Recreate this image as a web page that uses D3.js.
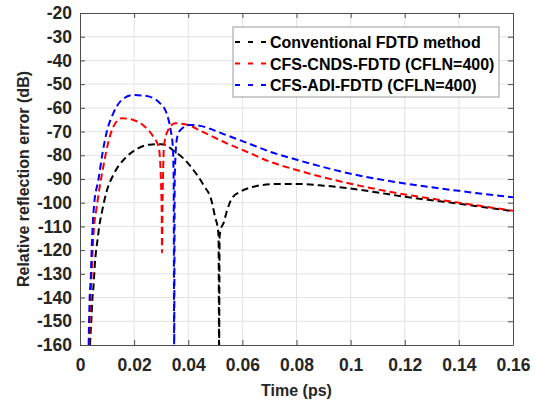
<!DOCTYPE html>
<html>
<head>
<meta charset="utf-8">
<script src="https://cdn.jsdelivr.net/npm/d3@7"></script>
<style>
  body { margin: 0; background: #fff; }
  svg { font-family: "Liberation Sans", Arial, sans-serif; font-weight: bold; }
  .grid line { stroke: #e3e3e3; stroke-width: 1; }
  .axis text { font-size: 17.5px; fill: #262626; }
  .axis line, .axis path { stroke: #4d4d4d; }
</style>
</head>
<body>
<div id="chart"></div>
<script>
// ---- data (time in ps, error in dB) ----
var xTicks = [0, 0.02, 0.04, 0.06, 0.08, 0.1, 0.12, 0.14, 0.16];
var yTicks = [-20, -30, -40, -50, -60, -70, -80, -90, -100, -110, -120, -130, -140, -150, -160];

var fdtdT  = [0.0037, 0.0040, 0.0043, 0.0045, 0.0049, 0.0052, 0.0055, 0.0059, 0.0065, 0.0071, 0.0080, 0.0089, 0.0099, 0.0123, 0.0166, 0.0216, 0.0265, 0.0302, 0.0351, 0.0382, 0.0419, 0.0456, 0.0487, 0.0499, 0.0508, 0.0512, 0.0514, 0.0516, 0.0521, 0.0530, 0.0542, 0.0561, 0.0592, 0.0641, 0.0721, 0.080, 0.09, 0.10, 0.11, 0.12, 0.13, 0.14, 0.15, 0.16];
var fdtdDb = [-160, -153, -147.4, -141.8, -136.5, -131.5, -125.6, -120.7, -115.5, -110, -104.5, -99.6, -95, -88.3, -81.3, -77, -75.4, -75.3, -78.5, -81.3, -86.2, -92.5, -99.6, -105.9, -110.1, -114, -162, -114, -111, -108.7, -103.8, -98.2, -95.4, -93.3, -92.1, -92.1, -92.8, -94, -95.7, -97.5, -99, -100.4, -102, -103.6];

var cndsT  = [0.0034, 0.0036, 0.0039, 0.0043, 0.0047, 0.0052, 0.0059, 0.0071, 0.0086, 0.0105, 0.0123, 0.0154, 0.0197, 0.0240, 0.0271, 0.0290, 0.0296, 0.0299, 0.0302, 0.0303, 0.0305, 0.0307, 0.0310, 0.0323, 0.0351, 0.0400, 0.0444, 0.0530, 0.0616, 0.0702, 0.080, 0.09, 0.10, 0.11, 0.12, 0.13, 0.14, 0.15, 0.16];
var cndsDb = [-160, -150, -140, -130, -120, -110, -104, -94.6, -84.8, -74.3, -68, -64.4, -65.1, -68, -72.2, -76.4, -82, -90.4, -104.4, -121, -100, -88, -76.4, -70, -66.5, -67.2, -69.6, -74.3, -78.5, -82.7, -86.2, -89.3, -92.0, -94.4, -96.5, -98.3, -100, -101.7, -103.4];

var adiT  = [0.0032, 0.0033, 0.0035, 0.0040, 0.0043, 0.0047, 0.0052, 0.0068, 0.0084, 0.0099, 0.0123, 0.0154, 0.0197, 0.0246, 0.0296, 0.0320, 0.0335, 0.0343, 0.0346, 0.0348, 0.0350, 0.0353, 0.0358, 0.0370, 0.0407, 0.0444, 0.0529, 0.0616, 0.0702, 0.0795, 0.09, 0.10, 0.11, 0.12, 0.13, 0.14, 0.15, 0.16];
var adiDb = [-160, -153, -142.5, -131.2, -120, -109.4, -101, -90.4, -78.5, -70, -62.3, -56.7, -54.6, -55, -58.1, -62.3, -69.4, -76.4, -90, -162, -90, -80, -73, -69.5, -67.2, -67.6, -71, -74.7, -78.5, -81.7, -85.0, -87.8, -90.0, -91.9, -93.5, -95.0, -96.4, -97.7];

var seriesNames = ["Conventional FDTD method", "CFS-CNDS-FDTD (CFLN=400)", "CFS-ADI-FDTD (CFLN=400)"];
var seriesColors = ["#000000", "#ff0000", "#0000ff"];

// ---- layout ----
var width = 541, height = 403;
var margin = {top: 13, right: 28, bottom: 58, left: 80};
var w = width - margin.left - margin.right;
var h = height - margin.top - margin.bottom;

var svg = d3.select("#chart").append("svg")
  .attr("width", width).attr("height", height);

var g = svg.append("g").attr("transform", "translate(" + margin.left + "," + margin.top + ")");

var xScale = d3.scaleLinear().domain([0, 0.16]).range([0, w]);
var yScale = d3.scaleLinear().domain([-160, -20]).range([h, 0]);

// grid
g.append("g").attr("class", "grid")
  .selectAll("line.v").data(xTicks.slice(1, -1)).enter().append("line")
  .attr("x1", d => xScale(d)).attr("x2", d => xScale(d))
  .attr("y1", 0).attr("y2", h);
g.append("g").attr("class", "grid")
  .selectAll("line.h").data(yTicks.slice(1, -1)).enter().append("line")
  .attr("y1", d => yScale(d)).attr("y2", d => yScale(d))
  .attr("x1", 0).attr("x2", w);

// curves
g.append("clipPath").attr("id", "clip")
  .append("rect").attr("width", w).attr("height", h);

var line = d3.line()
  .x(d => xScale(d[0]))
  .y(d => yScale(d[1]))
  .curve(d3.curveMonotoneX);

var allSeries = [d3.zip(fdtdT, fdtdDb), d3.zip(cndsT, cndsDb), d3.zip(adiT, adiDb)];

g.append("g").attr("clip-path", "url(#clip)")
  .selectAll("path").data(allSeries).enter().append("path")
  .attr("d", line)
  .attr("fill", "none")
  .attr("stroke", (d, i) => seriesColors[i])
  .attr("stroke-width", 2)
  .attr("stroke-dasharray", "7,4");

// axes (ticks inside, box on)
var fmt = d => d === 0 ? "0" : String(d);
g.append("g").attr("class", "axis")
  .attr("transform", "translate(0," + h + ")")
  .call(d3.axisBottom(xScale).tickValues(xTicks).tickFormat(fmt).tickSizeInner(-5).tickSizeOuter(0).tickPadding(14));
g.append("g").attr("class", "axis")
  .call(d3.axisTop(xScale).tickValues(xTicks).tickFormat("").tickSizeInner(-5).tickSizeOuter(0));
g.append("g").attr("class", "axis")
  .call(d3.axisLeft(yScale).tickValues(yTicks).tickFormat(fmt).tickSizeInner(-5).tickSizeOuter(0).tickPadding(8));
g.append("g").attr("class", "axis")
  .attr("transform", "translate(" + w + ",0)")
  .call(d3.axisRight(yScale).tickValues(yTicks).tickFormat("").tickSizeInner(-5).tickSizeOuter(0));

// axis labels
svg.append("text")
  .attr("x", margin.left + w / 2).attr("y", 396)
  .attr("text-anchor", "middle").attr("font-size", 16).attr("fill", "#262626")
  .text("Time (ps)");
svg.append("text")
  .attr("transform", "translate(29," + (margin.top + h / 2) + ") rotate(-90)")
  .attr("text-anchor", "middle").attr("font-size", 16).attr("fill", "#262626")
  .text("Relative reflection error (dB)");

// legend
var lg = svg.append("g").attr("transform", "translate(233,27)");
lg.append("rect").attr("width", 266).attr("height", 70)
  .attr("fill", "#fff").attr("stroke", "#9a9a9a").attr("stroke-width", 1);
var items = lg.selectAll("g.item").data(seriesNames).enter().append("g")
  .attr("transform", (d, i) => "translate(0," + (15 + i * 21.5) + ")");
items.append("line")
  .attr("x1", 2).attr("x2", 35).attr("y1", 0).attr("y2", 0)
  .attr("stroke", (d, i) => seriesColors[i]).attr("stroke-width", 2)
  .attr("stroke-dasharray", "5,8");
items.append("text")
  .attr("x", 37).attr("y", 6).attr("font-size", 16).attr("fill", "#000")
  .text(d => d);
</script>
</body>
</html>
